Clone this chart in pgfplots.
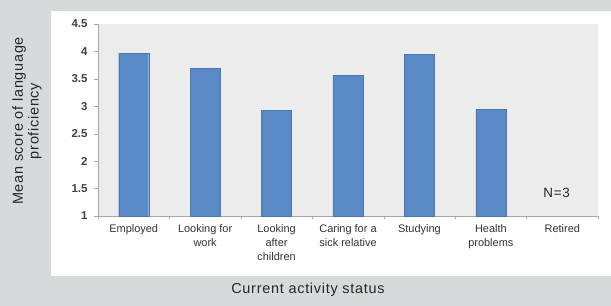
\documentclass[border=0pt]{standalone}
\usepackage{pgfplots}
\pgfplotsset{compat=1.18}
\usepackage{fontspec}
\setmainfont{Liberation Sans}
\newfontfamily\spacedfont[LetterSpace=5]{Liberation Sans}
\definecolor{bgout}{HTML}{D7DADB}
\definecolor{plotbg}{HTML}{ECECEC}
\definecolor{barblue}{HTML}{5A8AC6}
\definecolor{baredge}{HTML}{4A78B2}
\definecolor{axgray}{HTML}{A8A8A8}
\begin{document}
\begin{tikzpicture}
\useasboundingbox (0,0) rectangle (611bp,306bp);
\fill[bgout] (0,0) rectangle (611bp,306bp);
\fill[white] (51bp,30bp) rectangle (611bp,295bp);
\begin{axis}[
  at={(98bp,90bp)}, anchor=south west,
  width=500bp, height=192bp, scale only axis,
  xmin=-0.5, xmax=6.5, ymin=1, ymax=4.5,
  axis background/.style={fill=plotbg},
  axis x line=bottom, axis y line=left,
  axis line style={-, draw=axgray, line width=0.8pt},
  xtick={0,...,6},
  xticklabels={Employed, Looking for\\work, Looking\\after\\children, Caring for a\\sick relative, Studying, Health\\problems, Retired},
  x tick label style={font=\fontsize{11}{14}\selectfont, align=center, text=black!80, yshift=-1bp},
  major x tick style={draw=none},
  minor xtick={-0.5,0.5,...,6.5},
  minor x tick style={draw=axgray},
  minor tick length=3bp,
  ytick={1,1.5,...,4.5},
  y tick label style={font=\fontsize{11.5}{13}\selectfont\bfseries, text=black!75, xshift=-3bp},
  ytick style={draw=axgray},
  major tick length=4bp,
  tick align=outside,
  /pgf/number format/assume math mode=true,
  ybar, bar width=30bp,
  clip=false,
]
\addplot[fill=barblue, draw=baredge] coordinates {(0,3.97) (1,3.69) (2,2.925) (3,3.565) (4,3.945) (5,2.94)};
\node[font=\spacedfont\fontsize{13.5}{16}\selectfont, text=black!85] at (axis cs:5.92,1.43) {N=3};
\end{axis}
\node[rotate=90, align=center, font=\spacedfont\fontsize{14.5}{16}\selectfont, text=black!85] at (27bp,185bp) {Mean score of language\\proficiency};
\node[font=\spacedfont\fontsize{14.5}{17}\selectfont, text=black!85] at (308bp,16bp) {Current activity status};
\end{tikzpicture}
\end{document}
